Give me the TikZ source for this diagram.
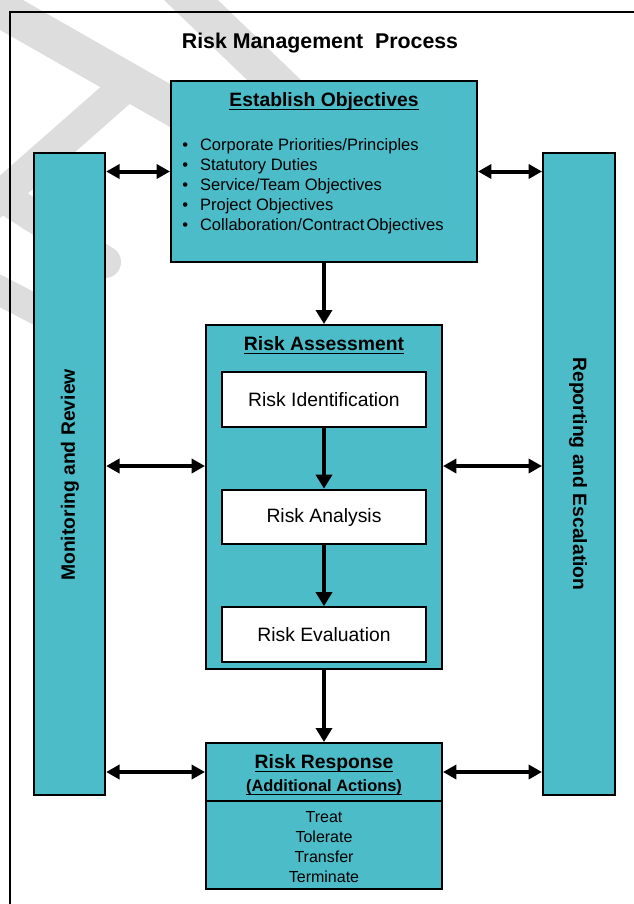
\documentclass[tikz,border=0pt]{standalone}
\usepackage{fontspec}
\setmainfont{Liberation Sans}
\usetikzlibrary{arrows.meta}
\definecolor{tealfill}{RGB}{75,188,200}
\definecolor{wmgray}{RGB}{221,221,221}
\newcommand\ulx[1]{\setbox0\hbox{#1}\rlap{\rule[-3.2pt]{\wd0}{1.1pt}}\box0}
\begin{document}
\begin{tikzpicture}[x=0.75pt,y=-0.75pt,
  box/.style={draw=black, line width=1.5pt, fill=tealfill, inner sep=0pt},
  wbox/.style={draw=black, line width=1.5pt, fill=white, inner sep=0pt,
    minimum width=153pt, minimum height=41pt, font=\fontsize{14.5}{17}\selectfont},
  hd/.style={font=\fontsize{14.5}{17}\selectfont\bfseries, inner sep=0pt, anchor=base},
  dbl/.style={line width=3pt, {Triangle[length=10pt,width=10.5pt]}-{Triangle[length=10pt,width=10.5pt]}},
  sgl/.style={line width=3.5pt, -{Triangle[length=10.5pt,width=12pt]}},
  wmline/.style={draw=wmgray, line width=28pt}
]
\useasboundingbox (0,0) rectangle (633,904);
\fill[white] (0,0) rectangle (633,904);
% watermark
\draw[wmline] (-20,-3) -- (185,114);
\draw[wmline, line width=24pt] (135,78) -- (-15,210);
\draw[wmline, line width=24pt, line cap=round] (-15,185) -- (105,262);
\draw[wmline, line width=22pt] (-15,283) -- (60,322);
\draw[wmline] (165,-25) -- (300,105);
% frame
\draw[line width=1.5pt] (10,910) -- (10,12) -- (640,12);
% title
\node[inner sep=0pt, anchor=base, font=\fontsize{16}{19}\selectfont\bfseries] (title) at (320,48.6) {Risk Management\ \ Process};
% boxes
\node[box, minimum width=229.5pt, minimum height=135.75pt] (est) at (324,171.5) {};
\node[box, minimum width=53.5pt, minimum height=481.5pt] (mon) at (69.5,474) {};
\node[box, minimum width=54pt, minimum height=481.5pt] (rep) at (579,474) {};
\node[box, minimum width=177pt, minimum height=258pt] (ra) at (324,497) {};
\node[box, minimum width=177pt, minimum height=109.5pt] (rr) at (324,816) {};
% texts
\node[hd] (esth) at (324,106) {\ulx{Establish Objectives}};
\node[inner sep=0pt, anchor=base west, font=\fontsize{12.4}{15}\selectfont] (bul) at (182,150)
  {\begin{tabular}[t]{@{}l@{\hspace{9pt}}l@{}}
   \textbullet & Corporate Priorities/Principles\\
   \textbullet & Statutory Duties\\
   \textbullet & Service/Team Objectives\\
   \textbullet & Project Objectives\\
   \textbullet & Collaboration/Contract\hspace{1.5pt}Objectives
   \end{tabular}};
\node[hd, rotate=90, anchor=center] (monl) at (70,475) {Monitoring and Review};
\node[hd, rotate=-90, anchor=center] (repl) at (578,474) {Reporting and Escalation};
\node[hd] (rah) at (324,350) {\ulx{Risk Assessment}};
\node[wbox] (rid) at (324,399.5) {Risk Identification};
\node[wbox] (ran) at (324,517) {Risk Analysis};
\node[wbox] (rev) at (324,634.5) {Risk Evaluation};
\node[hd] (rrh) at (324,768) {\ulx{Risk Response}};
\node[hd, font=\fontsize{12.3}{15}\selectfont\bfseries] (rrs) at (324,791) {\ulx{(Additional Actions)}};
\node[inner sep=0pt, anchor=base, font=\fontsize{12}{15}\selectfont] (rrl) at (324,822)
  {\begin{tabular}[t]{@{}c@{}}Treat\\Tolerate\\Transfer\\Terminate\end{tabular}};
\coordinate (ydiv) at (0,801);
\draw[line width=1.5pt] (rr.west |- ydiv) -- (rr.east |- ydiv);
% connectors
\coordinate (ym) at (0,466);
\coordinate (yb) at (0,772);
\draw[dbl] (mon.east |- est.west) -- (est.west);
\draw[dbl] (est.east) -- (rep.west |- est.east);
\draw[dbl] (mon.east |- ym) -- (ra.west |- ym);
\draw[dbl] (ra.east |- ym) -- (rep.west |- ym);
\draw[dbl] (mon.east |- yb) -- (rr.west |- yb);
\draw[dbl] (rr.east |- yb) -- (rep.west |- yb);
\draw[sgl] (est.south) -- (ra.north);
\draw[sgl] (rid.south) -- (ran.north);
\draw[sgl] (ran.south) -- (rev.north);
\draw[sgl] (ra.south) -- (rr.north);
\end{tikzpicture}
\end{document}
